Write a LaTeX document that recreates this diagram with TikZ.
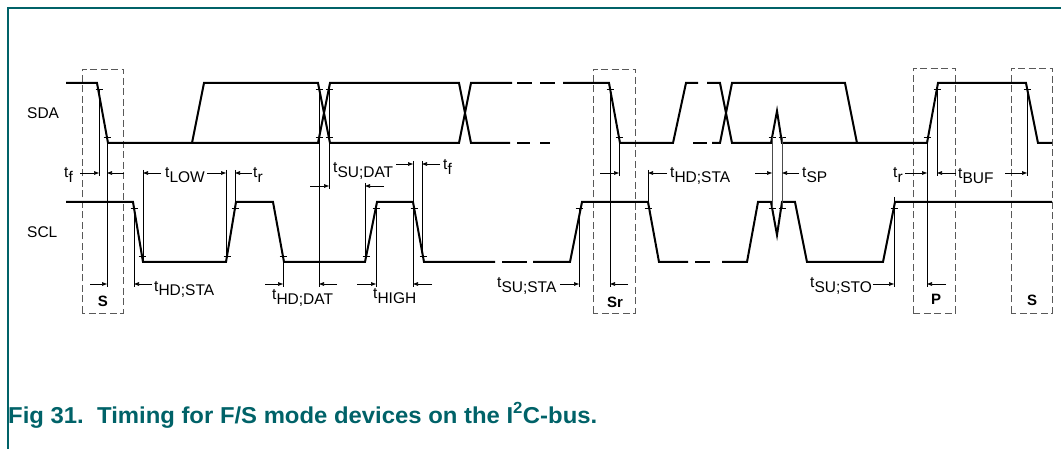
\documentclass[tikz,border=0pt]{standalone}
\usepackage{fontspec}
\setmainfont{Liberation Sans}
\usetikzlibrary{arrows.meta}
\definecolor{nxpteal}{RGB}{0,98,104}
\newcommand\tlab[1]{t\raisebox{-5pt}{#1}}
\begin{document}
\begin{tikzpicture}[x=1pt,y=-1pt,
 wave/.style={line width=2pt, line join=miter, line cap=butt},
 thinln/.style={line width=0.65pt},
 tickln/.style={line width=0.65pt},
 dbox/.style={draw=black!65, line width=0.8pt, dash pattern=on 7pt off 3.5pt},
 tarrow/.style={line width=0.65pt, -{Triangle[length=5pt,width=3.6pt]}},
 lab/.style={font=\fontsize{15.5}{18}\selectfont, inner sep=0pt, anchor=base west},
 blab/.style={font=\fontsize{15}{18}\selectfont\bfseries, inner sep=0pt},
]
\useasboundingbox (0,0) rectangle (1061,449);
% frame
\draw[nxpteal, line width=1.4pt] (8,449) -- (8,8) -- (1061,8);
% dashed boxes
\draw[dbox] (82,313) -- (82,69) -- (123,69) -- (123,313) -- cycle;
\draw[dbox] (593,313) -- (593,69) -- (635,69) -- (635,313) -- cycle;
\draw[dbox] (913,313) -- (913,68) -- (955,68) -- (955,313) -- cycle;
\draw[dbox] (1011,313) -- (1011,68) -- (1052,68) -- (1052,313) -- cycle;
% SDA
\draw[wave] (66,83) -- (97,83) -- (108,143) -- (318,143) -- (330,83) -- (459,83) -- (471,143) -- (510,143);
\draw[wave] (192,143) -- (204,83) -- (318,83) -- (330,143) -- (459,143) -- (471,83) -- (512,83);
\draw[wave] (517,83) -- (532,83);
\draw[wave] (540,83) -- (555,83);
\draw[wave] (517,143) -- (530,143);
\draw[wave] (540,143) -- (550,143);
\draw[wave] (563,83) -- (609,83) -- (620,143) -- (673,143) -- (686,83) -- (698,83);
\draw[wave] (707,83) -- (720,83) -- (732,143) -- (771,143) -- (777,111) -- (782,143) -- (927,143) -- (938,83) -- (1026,83) -- (1038,143) -- (1052,143);
\draw[wave] (693,143) -- (707,143);
\draw[wave] (712,143) -- (720,143) -- (732,83) -- (845,83) -- (857,143);
% SCL
\draw[wave] (66,202) -- (133,202) -- (143,262) -- (226,262) -- (236,202) -- (273,202) -- (284,262) -- (365,262) -- (377,202) -- (413,202) -- (424,262) -- (495,262);
\draw[wave] (502,262) -- (527,262);
\draw[wave] (533,262) -- (570,262) -- (582,202) -- (648,202) -- (659,262) -- (688,262);
\draw[wave] (695,262) -- (710,262);
\draw[wave] (722,262) -- (747,262) -- (758,202) -- (771,202) -- (777,235) -- (782,202) -- (795,202) -- (807,262) -- (883,262) -- (895,202) -- (1052,202);
% ticks
\foreach \x/\y in {99/89,107/137,319/89,329/89,319/137,329/137,610/89,619/137,772/137,782/137,927/137,937/89,1027/89,
  134/208,142/256,227/256,235/208,283/256,366/256,376/208,414/208,423/256,579/208,648/208,772/208,782/208,894/208}
  \draw[tickln] (\x-3.5,\y) -- (\x+3.5,\y);
% reference lines
\foreach \x/\a/\b in {99/89/176,107/137/287,134/208/287,143/170/262,226/170/256,235/170/208,
  283/256/287,319/89/287,329/89/189,365/183/256,376/208/287,413/161/287,422/161/256,
  579/208/287,610/89/287,619/137/176,648/170/208,894/197/287,927/137/287,937/89/176,1027/89/176}
  \draw[thinln] (\x,\a) -- (\x,\b);
\draw[thinln, black!70] (772,137) -- (772,208);
\draw[thinln, black!70] (782,137) -- (782,208);
% arrows pointing right (tip x, y, from)
\foreach \x/\y/\f in {99/173/80,226/173/207,329/186/310,413/164/396,619/173/600,772/173/755,927/173/905,1027/173/1005,
  107/284/90,283/284/265,376/284/357,579/284/560,894/284/873}
  \draw[tarrow] (\f,\y) -- (\x,\y);
% arrows pointing left (tip x, y, from)
\foreach \x/\y/\f in {107/173/124,143/173/161,235/173/252,365/186/384,422/164/440,648/173/667,782/173/799,937/173/956,
  134/284/152,319/284/337,413/284/432,610/284/628,927/284/946}
  \draw[tarrow] (\f,\y) -- (\x,\y);
% signal names
\node[lab] (sda) at (27,119) {SDA};
\node[lab] (scl) at (27,238) {SCL};
% timing labels
\node[lab] (tf1) at (64,178) {\tlab{f}};
\node[lab] (tlow) at (165,178) {\tlab{LOW}};
\node[lab] (tr1) at (253,178) {\tlab{r}};
\node[lab] (tsudat) at (333,173) {\tlab{SU;DAT}};
\node[lab] (tf2) at (443,170) {\tlab{f}};
\node[lab] (thdsta1) at (154,291) {\tlab{HD;STA}};
\node[lab] (thddat) at (272,300) {\tlab{HD;DAT}};
\node[lab] (thigh) at (373,299) {\tlab{HIGH}};
\node[lab] (tsusta) at (497,288) {\tlab{SU;STA}};
\node[lab] (thdsta2) at (670,178) {\tlab{HD;STA}};
\node[lab] (tsp) at (802,178) {\tlab{SP}};
\node[lab] (tsusto) at (810,288) {\tlab{SU;STO}};
\node[lab] (tr2) at (893,178) {\tlab{r}};
\node[lab] (tbuf) at (958,179) {\tlab{BUF}};
% condition labels
\node[blab] (cs1) at (103,301) {S};
\node[blab] (csr) at (615,302) {Sr};
\node[blab] (cp) at (936,299) {P};
\node[blab] (cs2) at (1032,300) {S};
% caption
\node[anchor=base west, inner sep=0pt, text=nxpteal, font=\fontsize{23}{26}\selectfont\bfseries] (cap) at (8,423)
  {\resizebox{589pt}{\height}{Fig 31.\ \ Timing for F/S mode devices on the I\textsuperscript{2}C-bus.}};
\end{tikzpicture}
\end{document}
